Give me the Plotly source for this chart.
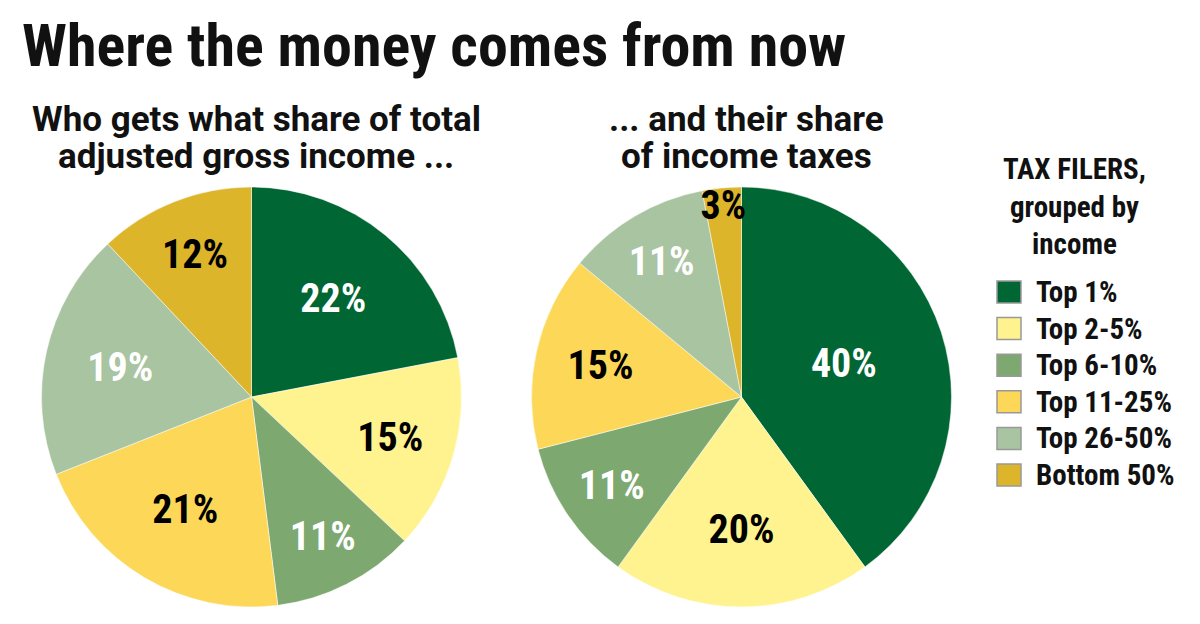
import plotly.graph_objects as go

groups = ["Top 1%", "Top 2-5%", "Top 6-10%", "Top 11-25%", "Top 26-50%", "Bottom 50%"]
income_share = [22, 15, 11, 21, 19, 12]
tax_share = [40, 20, 11, 15, 11, 3]
colors = ["#006633", "#fff38f", "#7da870", "#fdd758", "#a9c4a0", "#dcb52a"]
text_colors = ["white", "black", "white", "black", "white", "black"]

COND = "Roboto Condensed, Roboto, sans-serif"
WIDE = "Roboto, sans-serif"
W, H = 1200, 624

def px(x, y):
    return x / W, 1 - y / H

fig = go.Figure()
for vals, dom in [
    (income_share, [41 / W, 462 / W]),
    (tax_share, [531 / W, 952 / W]),
]:
    fig.add_trace(go.Pie(
        labels=groups, values=vals, sort=False, direction="clockwise", rotation=0,
        marker=dict(colors=colors, line=dict(color="white", width=0.5)),
        texttemplate="%{value}%", textinfo="text", textposition="inside",
        insidetextorientation="horizontal",
        insidetextfont=dict(family=COND, size=40, color=text_colors, weight=700),
        domain=dict(x=dom, y=[1 - 607 / H, 1 - 187 / H]),
        showlegend=False, hoverinfo="label+value",
    ))

annotations = [
    dict(text="<b>Where the money comes from now</b>", x=px(20, 0)[0], y=px(0, 46)[1],
         xanchor="left", yanchor="middle", font=dict(size=60, family=COND)),
    dict(text="<b>Who gets what share of total</b>",
         x=px(256, 0)[0], y=px(0, 119)[1], xanchor="center", yanchor="middle",
         font=dict(size=35, family=WIDE)),
    dict(text="<b>adjusted gross income ...</b>",
         x=px(256, 0)[0], y=px(0, 156)[1], xanchor="center", yanchor="middle",
         font=dict(size=35, family=WIDE)),
    dict(text="<b>... and their share</b>",
         x=px(746, 0)[0], y=px(0, 119)[1], xanchor="center", yanchor="middle",
         font=dict(size=35, family=WIDE)),
    dict(text="<b>of income taxes</b>",
         x=px(746, 0)[0], y=px(0, 156)[1], xanchor="center", yanchor="middle",
         font=dict(size=35, family=WIDE)),
    dict(text="<b>TAX FILERS,<br>grouped by<br>income</b>",
         x=px(1074, 0)[0], y=px(0, 207)[1], xanchor="center", yanchor="middle",
         font=dict(size=29, family=COND)),
]
shapes = []
row0, step = 292, 36.6
for i, (g, c) in enumerate(zip(groups, colors)):
    yc = row0 + i * step
    x0, y0 = px(997, yc - 11)
    x1, y1 = px(1021, yc + 11)
    shapes.append(dict(type="rect", xref="paper", yref="paper", x0=x0, x1=x1, y0=y1, y1=y0,
                       fillcolor=c, line=dict(color="#999999", width=1.5)))
    annotations.append(dict(text=f"<b>{g}</b>", x=px(1034, 0)[0], y=px(0, yc)[1],
                            xanchor="left", yanchor="middle",
                            font=dict(size=29, family=COND)))

for a in annotations:
    a.update(xref="paper", yref="paper", showarrow=False)
    a["font"].update(color="#111")

fig.update_layout(
    width=W, height=H,
    margin=dict(l=0, r=0, t=0, b=0),
    paper_bgcolor="white", plot_bgcolor="white",
    font=dict(family=COND, color="#111"),
    uniformtext=dict(minsize=40, mode="show"),
    showlegend=False,
    annotations=annotations,
    shapes=shapes,
)

fig.write_html("out.html", config={"displayModeBar": False},
               post_script="document.body.style.margin='0';")
